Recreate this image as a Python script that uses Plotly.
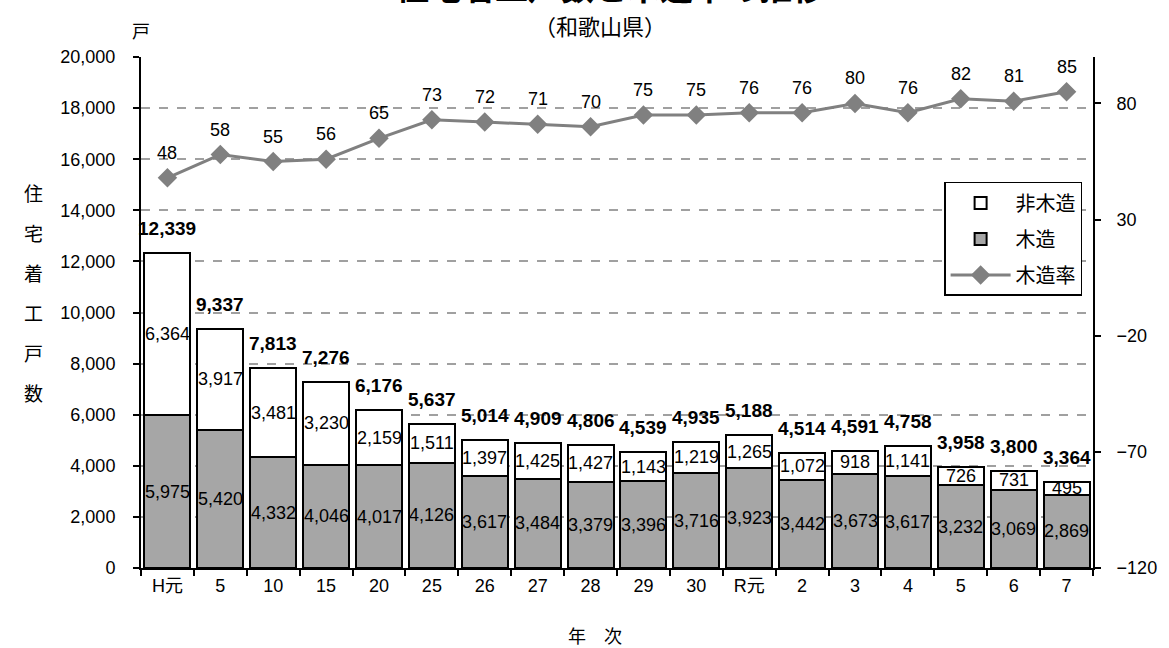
import plotly.graph_objects as go

categories = ["H元", "5", "10", "15", "20", "25", "26", "27", "28", "29", "30",
              "R元", "2", "3", "4", "5", "6", "7"]
wood = [5975, 5420, 4332, 4046, 4017, 4126, 3617, 3484, 3379, 3396, 3716,
        3923, 3442, 3673, 3617, 3232, 3069, 2869]
nonwood = [6364, 3917, 3481, 3230, 2159, 1511, 1397, 1425, 1427, 1143, 1219,
           1265, 1072, 918, 1141, 726, 731, 495]
wood_rate = [48, 58, 55, 56, 65, 73, 72, 71, 70, 75, 75, 76, 76, 80, 76, 82, 81, 85]
left_ticks = list(range(0, 20001, 2000))
right_ticks = [-120, -70, -20, 30, 80]

FONT = "Liberation Sans, Noto Sans CJK JP, sans-serif"
JFONT = "Noto Sans CJK JP, sans-serif"

x = list(range(len(categories)))
totals = [w + n for w, n in zip(wood, nonwood)]

fig = go.Figure()
fig.add_bar(x=x, y=wood, name="木造", width=0.87, legendrank=2, legendgroup="g2",
            marker=dict(color="#a6a6a6", line=dict(color="black", width=2)),
            hoverinfo="skip")
fig.add_bar(x=x, y=nonwood, name="非木造", width=0.87, legendrank=1, legendgroup="g1",
            marker=dict(color="white", line=dict(color="black", width=2)),
            hoverinfo="skip")
fig.add_scatter(x=x, y=wood_rate, yaxis="y2", name="木造率", mode="lines+markers",
                legendrank=3, legendgroup="g3",
                line=dict(color="#808080", width=3),
                marker=dict(symbol="diamond", size=15, color="#808080"))

anns = []
for i in x:
    anns.append(dict(x=i, y=wood[i] / 2, xref="x", yref="y", text=f"{wood[i]:,}",
                     showarrow=False, font=dict(size=18, color="black", family=FONT)))
    anns.append(dict(x=i, y=wood[i] + nonwood[i] / 2, xref="x", yref="y",
                     text=f"{nonwood[i]:,}", showarrow=False,
                     font=dict(size=18, color="black", family=FONT)))
    anns.append(dict(x=i, y=totals[i], xref="x", yref="y", text=f"<b>{totals[i]:,}</b>",
                     showarrow=False, yanchor="bottom", yshift=12,
                     font=dict(size=19, color="black", family=FONT)))
    anns.append(dict(x=i, y=wood_rate[i], xref="x", yref="y2", text=f"{wood_rate[i]}",
                     showarrow=False, yanchor="middle", yshift=25,
                     font=dict(size=18, color="black", family=FONT)))

# titles
anns.append(dict(x=0.493, y=1.088, xref="paper", yref="paper", yanchor="bottom",
                 text="<b>住宅着工戸数と木造率の推移</b>", showarrow=False,
                 font=dict(size=33, color="black", family=JFONT)))
anns.append(dict(x=0.482, y=1.0626, xref="paper", yref="paper", yanchor="middle",
                 text="（和歌山県）", showarrow=False,
                 font=dict(size=22, color="black", family=JFONT)))
anns.append(dict(x=-0.0115, y=1.053, xref="paper", yref="paper", yanchor="middle",
                 text="戸", showarrow=False,
                 font=dict(size=18, color="black", family=JFONT)))
for k, ch in enumerate("住宅着工戸数"):
    ypix = 192 + k * 40
    anns.append(dict(x=(21 - 141) / 959, y=1 - (ypix - 57) / 511, xref="paper", yref="paper",
                     yanchor="middle", text=ch, showarrow=False,
                     font=dict(size=19, color="black", family=JFONT)))
anns.append(dict(x=0.4765, y=-0.131, xref="paper", yref="paper", yanchor="middle",
                 text="年　次", showarrow=False,
                 font=dict(size=18, color="black", family=JFONT)))

fig.update_layout(
    width=1169, height=648,
    margin=dict(l=141, r=69, t=57, b=80),
    paper_bgcolor="white", plot_bgcolor="white",
    barmode="stack",
    font=dict(family=FONT, size=18, color="black"),
    showlegend=True,
    legend=dict(x=0.8436, y=0.7554, xanchor="left", yanchor="top",
                bordercolor="black", borderwidth=1.5, bgcolor="white",
                font=dict(size=20, family=JFONT), traceorder="grouped",
                tracegroupgap=7, itemwidth=60),
    annotations=anns,
    xaxis=dict(range=[-0.5, 17.5], tickmode="array", tickvals=x, ticktext=categories,
               showline=True, linecolor="black", linewidth=2, ticks="",
               showgrid=False, zeroline=False, tickfont=dict(size=18),
               minor=dict(tickmode="array", tickvals=[i - 0.5 for i in range(len(categories) + 1)],
                          ticks="outside", ticklen=6, tickcolor="black", tickwidth=1.5,
                          showgrid=False)),
    yaxis=dict(range=[0, 20000], tickmode="array", tickvals=left_ticks, tickformat=",",
               showgrid=False, showline=True, linecolor="black", linewidth=2,
               ticks="outside", ticklen=6, tickcolor="black", tickwidth=1.5,
               ticklabelstandoff=14, zeroline=False, tickfont=dict(size=18),
               minor=dict(tickmode="array", tickvals=left_ticks[1:-1], ticks="",
                          showgrid=True, gridcolor="#a0a0a0", griddash="dash",
                          gridwidth=1.5)),
    yaxis2=dict(range=[-120, 100], overlaying="y", side="right", tickmode="array",
                tickvals=right_ticks, showgrid=False, showline=True, linecolor="black",
                linewidth=2, ticks="outside", ticklen=6, tickcolor="black", tickwidth=1.5,
                ticklabelstandoff=12, zeroline=False, tickfont=dict(size=18)),
)

fig.write_html("out.html", config={"displayModeBar": False},
               post_script="document.body.style.margin='0px';")
